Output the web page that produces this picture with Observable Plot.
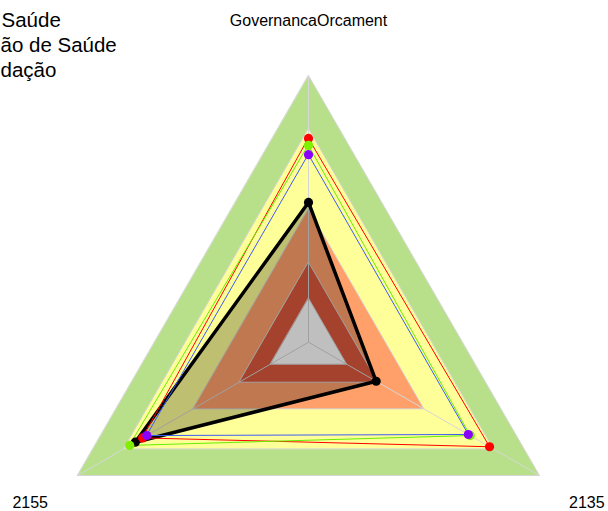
<!DOCTYPE html>
<html>
<head>
<meta charset="utf-8">
<script src="https://cdn.jsdelivr.net/npm/d3@7"></script>
<script src="https://cdn.jsdelivr.net/npm/@observablehq/plot@0.6"></script>
<style>
  html, body { margin: 0; padding: 0; background: #fff; }
  #chart svg { display: block; }
</style>
</head>
<body>
<div id="chart"></div>
<script>
// ---- data ----
const axisNames = ["GovernancaOrcament", "2135", "2155"];
// legend lines, as far as they are visible in the reference
const legendLines = ["Saúde", "ão de Saúde", "dação"];
// radar values (normalized radius, 0..1) per axis, in axisNames order
const blackValues = [0.524, 0.293, 0.750];
const redValues = [0.764, 0.784, 0.718];
const greenValues = [0.738, 0.700, 0.774];
const purpleValues = [0.703, 0.692, 0.700];
// background bands (outer limits)
const bandLevels = [1.0, 0.8, 0.5, 0.3, 0.165];
const bandColors = ["#B8E08A", "#FFFF99", "#FFA06B", "#DC583C", "#FFFFFF"];

// ---- helpers ----
const angle = i => (i * 2 * Math.PI) / axisNames.length;
const px = (i, r) => r * Math.sin(angle(i));
const py = (i, r) => r * Math.cos(angle(i));

const bands = bandLevels.flatMap((lv, k) =>
  axisNames.map((a, i) => ({band: k, color: bandColors[k], x: px(i, lv), y: py(i, lv)})));
const rings = bandLevels.flatMap((lv, k) =>
  axisNames.map((a, i) => ({band: k, x: px(i, lv), y: py(i, lv)})));
const spokes = axisNames.map((a, i) => ({x1: 0, y1: 0, x2: px(i, 1), y2: py(i, 1)}));
const labels = axisNames.map((a, i) => ({name: a, x: px(i, 1.205), y: py(i, 1.205)}));

const seriesDefs = [
  {key: "black", values: blackValues, stroke: "#000000", dot: "#000000", width: 3.5},
  {key: "red", values: redValues, stroke: "#FF0000", dot: "#FF0000", width: 1},
  {key: "green", values: greenValues, stroke: "#66EE00", dot: "#80F000", width: 1},
  {key: "purple", values: purpleValues, stroke: "#3D5CF5", dot: "#8A00FF", width: 1}
];
const pts = s => s.values.map((v, i) => ({key: s.key, x: px(i, v), y: py(i, v)}));

const R = 266.7, cx = 308, cy = 341.7, W = 608, H = 511;

const marks = [
  Plot.line(bands, {x: "x", y: "y", z: "band", fill: "color", stroke: null, curve: "linear-closed"}),
  Plot.line(rings, {x: "x", y: "y", z: "band", stroke: "#D6D6D6", strokeWidth: 1, curve: "linear-closed"}),
  Plot.link(spokes, {x1: "x1", y1: "y1", x2: "x2", y2: "y2", stroke: "#D6D6D6", strokeWidth: 1}),
  Plot.line(pts(seriesDefs[0]), {x: "x", y: "y", fill: "#000", fillOpacity: 0.25, stroke: null, curve: "linear-closed"})
];
for (const s of seriesDefs) {
  marks.push(Plot.line(pts(s), {x: "x", y: "y", stroke: s.stroke, strokeWidth: s.width, curve: "linear-closed", strokeLinejoin: "miter"}));
}
for (const s of seriesDefs) {
  marks.push(Plot.dot(pts(s), {x: "x", y: "y", r: 4.6, fill: s.dot, stroke: null}));
}
marks.push(Plot.text(labels, {x: "x", y: "y", text: "name", fontSize: 16, fill: "#000"}));
const legendStarts = [1, 0, 0];
legendLines.forEach((t, k) => {
  marks.push(Plot.text([t], {frameAnchor: "top-left", text: d => d, textAnchor: "start", lineAnchor: "bottom",
    dx: legendStarts[k], dy: 26 + k * 25, fontSize: 20.5, fill: "#000"}));
});

const chart = Plot.plot({
  width: W, height: H,
  margin: 0,
  x: {domain: [-cx / R, (W - cx) / R], range: [0, W], axis: null},
  y: {domain: [-(H - cy) / R, cy / R], range: [H, 0], axis: null},
  style: {fontFamily: "'Liberation Sans', Arial, sans-serif", background: "#fff", overflow: "hidden"},
  marks
});
document.getElementById("chart").append(chart);
</script>
</body>
</html>
